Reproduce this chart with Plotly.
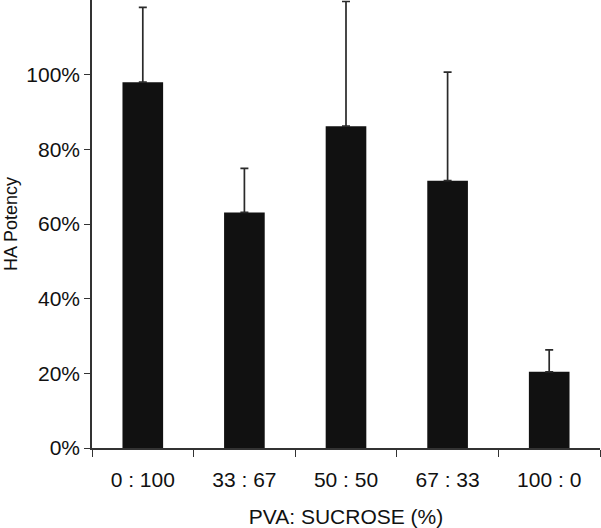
import plotly.graph_objects as go

categories = ["0 : 100", "33 : 67", "50 : 50", "67 : 33", "100 : 0"]
potency = [98.0, 63.1, 86.2, 71.6, 20.4]
error_upper = [20.0, 11.8, 33.4, 29.1, 5.9]
error_lower = [0, 0, 0, 0, 0]
y_ticks = [0, 20, 40, 60, 80, 100]
y_tick_labels = ["0%", "20%", "40%", "60%", "80%", "100%"]

FONT = "Liberation Sans, Arial, Helvetica, sans-serif"

fig = go.Figure(
    go.Bar(
        x=categories,
        y=potency,
        marker=dict(color="#111111", line=dict(width=0)),
        error_y=dict(
            type="data",
            symmetric=False,
            array=error_upper,
            arrayminus=error_lower,
            color="#2a2a2a",
            thickness=1.7,
            width=4,
        ),
        cliponaxis=False,
        hoverinfo="skip",
    )
)

fig.update_layout(
    width=601,
    height=528,
    margin=dict(l=92, r=1, t=0, b=80),
    paper_bgcolor="white",
    plot_bgcolor="white",
    bargap=0.6,
    showlegend=False,
    font=dict(family=FONT, color="#111111", size=21),
)

fig.update_xaxes(
    type="category",
    range=[-0.5, 4.5],
    tickson="boundaries",
    ticks="outside",
    ticklen=7,
    tickwidth=1.2,
    tickcolor="#333333",
    showline=True,
    linecolor="#333333",
    linewidth=1.5,
    showgrid=False,
    ticklabelstandoff=12,
    tickfont=dict(size=21),
    title=dict(text="PVA: SUCROSE (%)", font=dict(size=21), standoff=19),
)

fig.update_yaxes(
    range=[0, 120],
    tickmode="array",
    tickvals=y_ticks,
    ticktext=y_tick_labels,
    ticks="outside",
    ticklen=6,
    tickwidth=1.2,
    tickcolor="#333333",
    showline=True,
    linecolor="#333333",
    linewidth=1.5,
    showgrid=False,
    zeroline=False,
    tickfont=dict(size=21),
    title=dict(text="HA Potency", font=dict(size=18), standoff=4),
)

fig.write_html(
    "out.html",
    config={"displayModeBar": False},
    post_script="document.body.style.margin='0';document.body.style.padding='0';",
)
